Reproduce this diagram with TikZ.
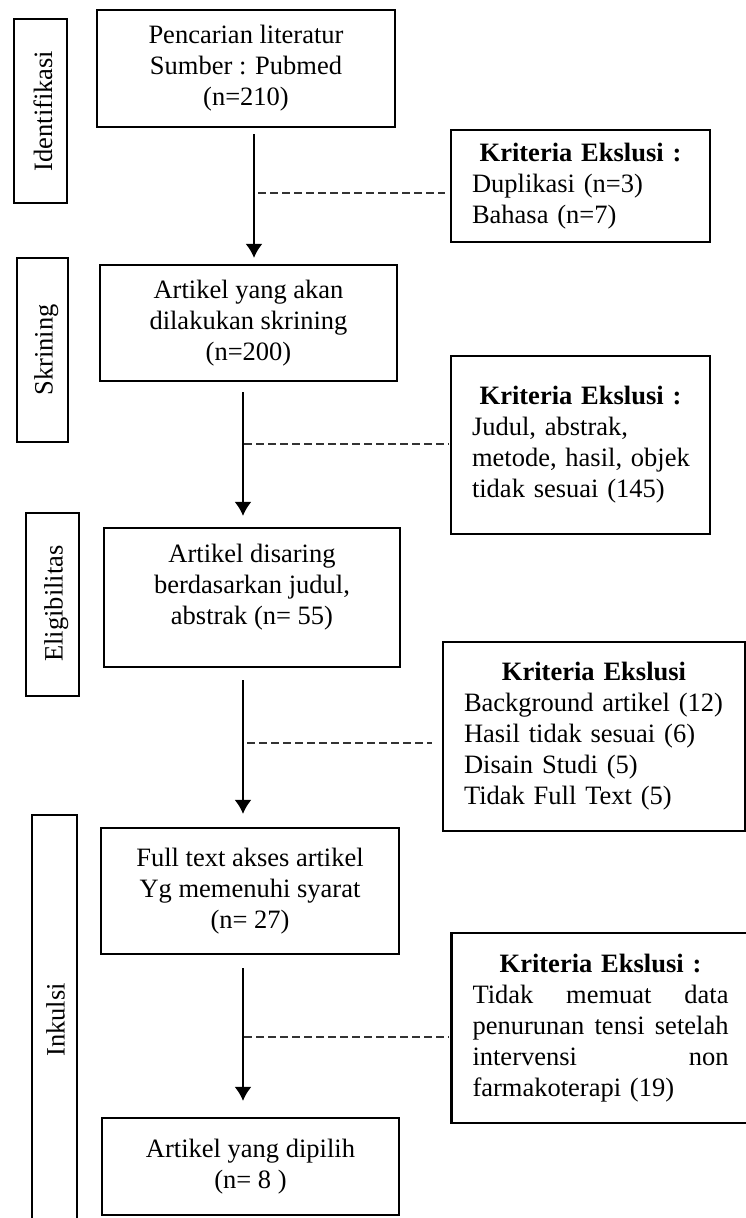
\documentclass[tikz,border=0pt]{standalone}
\usepackage{fontspec}
\setmainfont{Liberation Serif}
\usetikzlibrary{arrows.meta}
\newcommand{\khead}[1]{\makebox[\linewidth]{\bfseries #1}}
\newcommand{\kfull}[1]{\mbox{\hbox to 256pt{#1}}}
\hyphenpenalty=10000
\begin{document}
\begin{tikzpicture}[x=1pt,y=-1pt,
  every node/.style={font=\fontsize{26.5}{31}\selectfont},
  box/.style={draw, line width=2.2pt, rectangle, inner sep=0pt, align=center},
  kbox/.style={draw, line width=2.2pt, rectangle, inner xsep=21pt, inner ysep=0pt, align=left},
  labbox/.style={draw, line width=2.2pt, rectangle, inner sep=0pt},
  labtxt/.style={rotate=90, anchor=base, inner sep=0pt},
  arr/.style={line width=2pt, -{Latex[length=14pt,width=17pt]}},
  dashln/.style={line width=1.2pt, black!80, dash pattern=on 8pt off 4pt}]
\clip (0,0) rectangle (746,1218);

% stage labels
\node[labbox, minimum width=53pt, minimum height=184pt] (l1) at (40.5,111) {};
\node[labtxt] (l1t) at (52,111) {Identifikasi};
\node[labbox, minimum width=51pt, minimum height=184pt] (l2) at (42.5,350) {};
\node[labtxt] (l2t) at (52.5,350) {Skrining};
\node[labbox, minimum width=53pt, minimum height=183pt] (l3) at (52.5,604.5) {};
\node[labtxt] (l3t) at (62.5,603.5) {Eligibilitas};
\node[labbox, minimum width=45pt, minimum height=425pt] (l4) at (54.5,1027.5) {};
\node[labtxt] (l4t) at (64.5,1020) {Inkulsi};

% main boxes
\node[box, minimum width=298pt, minimum height=117pt] (b1) at (246,68.5)
  {Pencarian literatur\\Sumber : Pubmed\\(n=210)};
\node[box, minimum width=297pt, minimum height=116pt] (b2) at (248.5,323)
  {Artikel yang akan\\dilakukan skrining\\(n=200)};
\node[box, minimum width=296pt, minimum height=139pt] (b3) at (252,597.5) {};
\node[align=center, inner sep=0pt] (b3t) at (252,587)
  {Artikel disaring\\berdasarkan judul,\\abstrak (n= 55)};
\node[box, minimum width=298pt, minimum height=126pt] (b4) at (250,891)
  {Full text akses artikel\\Yg memenuhi syarat\\(n= 27)};
\node[box, minimum width=297pt, minimum height=97pt] (b5) at (250.5,1166.5)
  {Artikel yang dipilih\\(n= 8 )};

% exclusion boxes
\node[kbox, text width=217pt, minimum height=112pt] (k1) at (580.5,186)
  {\khead{Kriteria Ekslusi :}\\Duplikasi (n=3)\\Bahasa (n=7)};
\node[kbox, text width=217pt, minimum height=178pt] (k2) at (580.5,445)
  {\khead{Kriteria Ekslusi :}\\Judul, abstrak,\\\mbox{metode, hasil, objek}\\tidak sesuai (145)};
\node[kbox, text width=260pt, minimum height=189pt] (k3) at (594,736.5)
  {\khead{Kriteria Ekslusi}\\Background artikel (12)\\Hasil tidak sesuai (6)\\Disain Studi (5)\\Tidak Full Text (5)};
\node[kbox, text width=256pt, minimum height=190pt] (k4) at (600.5,1028)
  {\khead{Kriteria Ekslusi :}\\\kfull{Tidak\hfill memuat\hfill data}\\\kfull{penurunan\hfill tensi\hfill setelah}\\\kfull{intervensi\hfill non}\\farmakoterapi (19)};

% arrow columns
\coordinate (x1) at (254,0);
\coordinate (x2) at (243,0);
\draw[arr, shorten <=6pt, shorten >=6pt] (b1.south -| x1) -- (b2.north -| x1);
\draw[arr, shorten <=10pt, shorten >=11pt] (b2.south -| x2) -- (b3.north -| x2);
\draw[arr, shorten <=12pt, shorten >=13pt] (b3.south -| x2) -- (b4.north -| x2);
\draw[arr, shorten <=13pt, shorten >=16pt] (b4.south -| x2) -- (b5.north -| x2);

% dashed branches
\coordinate (d1) at (254,193);
\coordinate (d2) at (243,444);
\coordinate (d3) at (243,743);
\coordinate (d4) at (243,1037);
\draw[dashln, shorten <=4pt, shorten >=5pt] (d1) -- (d1 -| k1.west);
\draw[dashln, shorten <=1pt, shorten >=1pt] (d2) -- (d2 -| k2.west);
\draw[dashln, shorten <=4pt, shorten >=10pt] (d3) -- (d3 -| k3.west);
\draw[dashln, shorten <=1pt, shorten >=1pt] (d4) -- (d4 -| k4.west);
\end{tikzpicture}
\end{document}
